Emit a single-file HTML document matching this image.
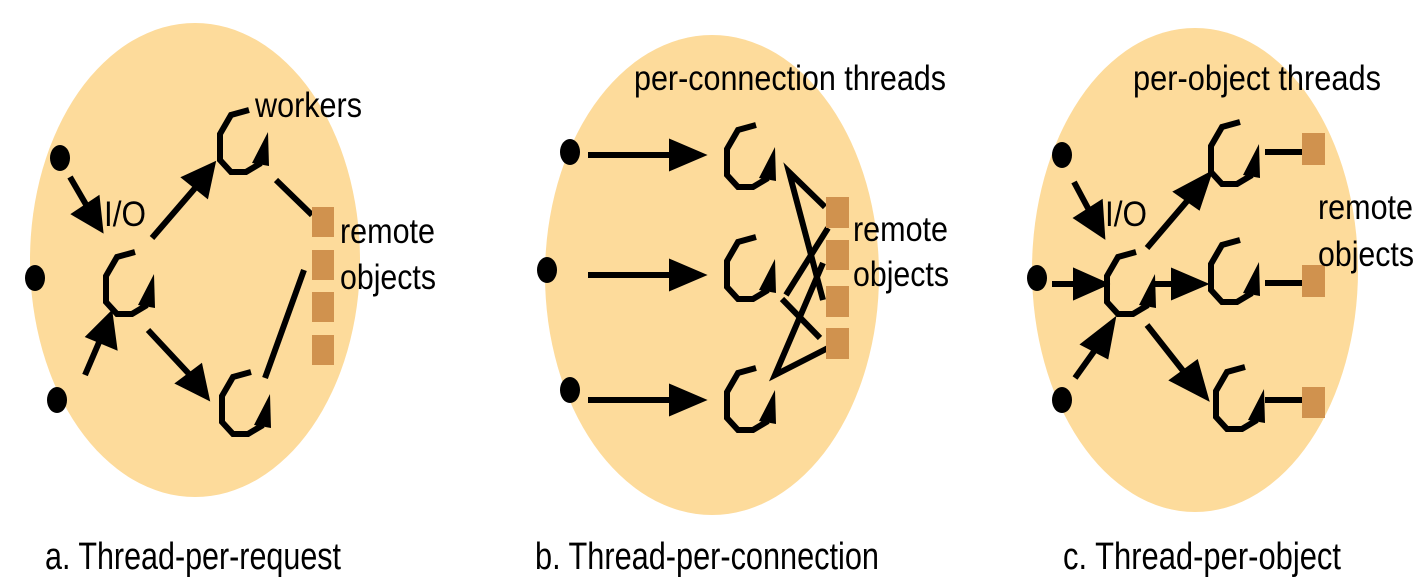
<!DOCTYPE html>
<html><head><meta charset="utf-8"><style>
html,body{margin:0;padding:0;background:#fff;width:1426px;height:588px;overflow:hidden}
text{font-family:"Liberation Sans",sans-serif;fill:#000}
</style></head><body>
<svg width="1426" height="588" viewBox="0 0 1426 588">
<defs>
<g id="thr">
<polyline points="30,0 12,5 1,24 1,50 12,62 27,62 42,53" fill="none" stroke="#000" stroke-width="6"/>
<polygon points="33,53 49,22 50,56" fill="#000"/>
</g>
</defs>

<g>
<ellipse cx="195" cy="260" rx="165" ry="237" fill="#fddb9b"/>
<ellipse cx="60" cy="158" rx="10" ry="13"/>
<ellipse cx="35" cy="278" rx="10" ry="13"/>
<ellipse cx="57" cy="400" rx="10" ry="13"/>
<use href="#thr" x="105" y="252"/>
<use href="#thr" x="219" y="110"/>
<use href="#thr" x="221" y="372"/>
<g stroke="#000" stroke-width="6" fill="#000">
<line x1="70" y1="177" x2="88" y2="208"/><polygon points="76,214 100,228 97,200"/>
<line x1="152" y1="238" x2="196" y2="187"/><polygon points="186,178 212,166 206,194"/>
<line x1="148" y1="330" x2="190" y2="375"/><polygon points="180,383 206,396 200,368"/>
<line x1="85" y1="375" x2="100" y2="340"/><polygon points="90,336 110,316 114,346"/>
<line x1="276" y1="180" x2="312" y2="215"/>
<line x1="265" y1="378" x2="304" y2="270"/>
</g>
<g fill="#d0924e">
<rect x="312" y="207" width="22" height="30"/>
<rect x="312" y="250" width="22" height="30"/>
<rect x="312" y="292" width="22" height="30"/>
<rect x="312" y="335" width="22" height="30"/>
</g>
<text x="255" y="117" font-size="35" textLength="107" lengthAdjust="spacingAndGlyphs">workers</text>
<text x="104" y="226" font-size="35" textLength="42" lengthAdjust="spacingAndGlyphs">I/O</text>
<text x="340" y="243" font-size="35" textLength="95" lengthAdjust="spacingAndGlyphs">remote</text>
<text x="340" y="289" font-size="35" textLength="96" lengthAdjust="spacingAndGlyphs">objects</text>
<text x="45" y="569" font-size="38" textLength="296" lengthAdjust="spacingAndGlyphs">a. Thread-per-request</text>
</g>

<g>
<ellipse cx="712" cy="275" rx="167" ry="240" fill="#fddb9b"/>
<ellipse cx="570" cy="152" rx="10" ry="13"/>
<ellipse cx="547" cy="270" rx="10" ry="13"/>
<ellipse cx="570" cy="390" rx="10" ry="13"/>
<use href="#thr" x="726" y="125"/>
<use href="#thr" x="726" y="237"/>
<use href="#thr" x="726" y="368"/>
<g stroke="#000" stroke-width="6" fill="#000">
<line x1="588" y1="155" x2="675" y2="155"/><polygon points="672,143 700,155 672,167"/>
<line x1="588" y1="275" x2="675" y2="275"/><polygon points="672,263 700,275 672,287"/>
<line x1="588" y1="400" x2="675" y2="400"/><polygon points="672,388 700,400 672,412"/>
<polyline points="825,207 789,172 823,300" fill="none"/>
<line x1="786" y1="295" x2="828" y2="228"/>
<line x1="782" y1="299" x2="820" y2="338"/>
<polyline points="823,263 775,375 828,348" fill="none"/>
</g>
<g fill="#d0924e">
<rect x="826" y="197" width="23" height="31"/>
<rect x="826" y="240" width="23" height="30"/>
<rect x="826" y="286" width="23" height="31"/>
<rect x="826" y="328" width="23" height="31"/>
</g>
<text x="634" y="90" font-size="35" textLength="312" lengthAdjust="spacingAndGlyphs">per-connection threads</text>
<text x="853" y="241" font-size="35" textLength="95" lengthAdjust="spacingAndGlyphs">remote</text>
<text x="853" y="286" font-size="35" textLength="96" lengthAdjust="spacingAndGlyphs">objects</text>
<text x="535" y="569" font-size="38" textLength="344" lengthAdjust="spacingAndGlyphs">b. Thread-per-connection</text>
</g>

<g>
<ellipse cx="1195" cy="270" rx="163" ry="242" fill="#fddb9b"/>
<ellipse cx="1062" cy="155" rx="10" ry="13"/>
<ellipse cx="1037" cy="278" rx="10" ry="13"/>
<ellipse cx="1062" cy="400" rx="10" ry="13"/>
<use href="#thr" x="1106" y="252"/>
<use href="#thr" x="1210" y="122"/>
<use href="#thr" x="1210" y="240"/>
<use href="#thr" x="1215" y="367"/>
<g stroke="#000" stroke-width="6" fill="#000">
<line x1="1074" y1="182" x2="1090" y2="212"/><polygon points="1078,218 1102,234 1100,204"/>
<line x1="1052" y1="284" x2="1080" y2="284"/><polygon points="1076,272 1103,284 1076,296"/>
<line x1="1075" y1="378" x2="1095" y2="350"/><polygon points="1085,344 1112,323 1106,355"/>
<line x1="1147" y1="248" x2="1188" y2="200"/><polygon points="1178,192 1208,176 1198,206"/>
<line x1="1153" y1="284" x2="1178" y2="284"/><polygon points="1174,272 1202,284 1174,296"/>
<line x1="1147" y1="325" x2="1184" y2="372"/><polygon points="1174,380 1205,396 1196,364"/>
<line x1="1265" y1="152" x2="1302" y2="152"/>
<line x1="1265" y1="283" x2="1302" y2="283"/>
<line x1="1265" y1="400" x2="1302" y2="400"/>
</g>
<g fill="#d0924e">
<rect x="1302" y="133" width="23" height="32"/>
<rect x="1302" y="265" width="23" height="32"/>
<rect x="1302" y="387" width="23" height="31"/>
</g>
<text x="1133" y="90" font-size="35" textLength="248" lengthAdjust="spacingAndGlyphs">per-object threads</text>
<text x="1105" y="226" font-size="35" textLength="42" lengthAdjust="spacingAndGlyphs">I/O</text>
<text x="1318" y="219" font-size="35" textLength="95" lengthAdjust="spacingAndGlyphs">remote</text>
<text x="1318" y="266" font-size="35" textLength="96" lengthAdjust="spacingAndGlyphs">objects</text>
<text x="1063" y="569" font-size="38" textLength="278" lengthAdjust="spacingAndGlyphs">c. Thread-per-object</text>
</g>
</svg>
</body></html>
